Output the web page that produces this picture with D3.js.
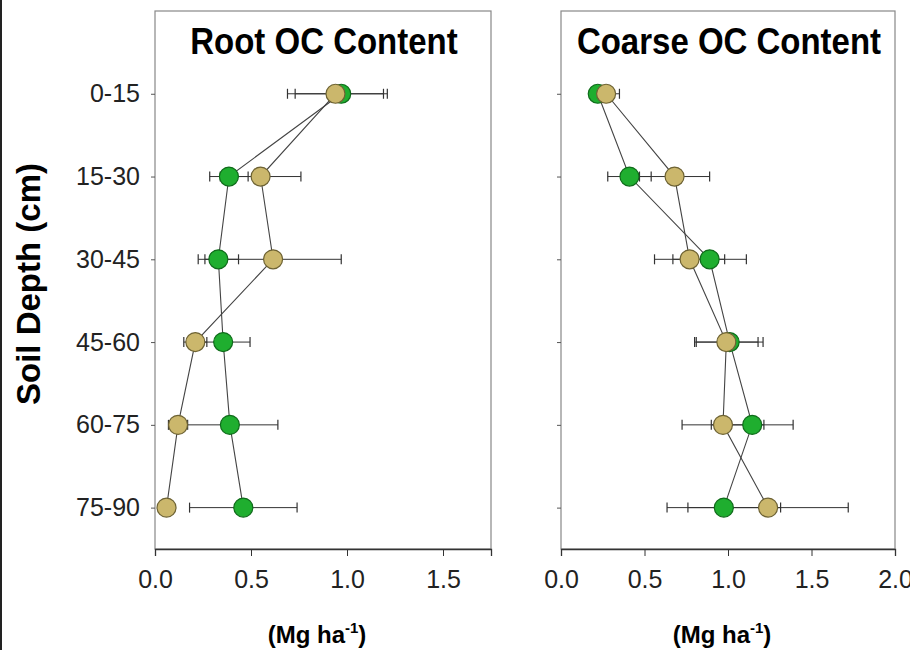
<!DOCTYPE html>
<html>
<head>
<meta charset="utf-8">
<script src="https://cdn.jsdelivr.net/npm/d3@7"></script>
<style>
  body { margin: 0; background: #fff; }
  svg { display: block; font-family: "Liberation Sans", Arial, sans-serif; }
</style>
</head>
<body>
<svg width="910" height="650"></svg>
<script>
// depth classes (top to bottom)
var depths = ["0-15", "15-30", "30-45", "45-60", "60-75", "75-90"];

// Root OC content (Mg ha-1)
var rootGreen = [0.97, 0.385, 0.33, 0.355, 0.39, 0.46];
var rootGreenErr = [0.24, 0.10, 0.105, 0.14, 0.25, 0.28];
var rootTan = [0.94, 0.55, 0.615, 0.21, 0.12, 0.06];
var rootTanErr = [0.25, 0.21, 0.355, 0.06, 0.05, 0.03];

// Coarse OC content (Mg ha-1)
var coarseGreen = [0.22, 0.41, 0.89, 1.01, 1.145, 0.975];
var coarseGreenErr = [0.03, 0.13, 0.22, 0.20, 0.245, 0.34];
var coarseTan = [0.27, 0.68, 0.77, 0.99, 0.97, 1.24];
var coarseTanErr = [0.08, 0.21, 0.21, 0.19, 0.245, 0.48];

var rootTicks = [0, 0.5, 1.0, 1.5];
var coarseTicks = [0, 0.5, 1.0, 1.5, 2.0];

var svg = d3.select("svg");
var plotTop = 11, plotBottom = 549;

// thin dark frame line on the left edge of the picture
svg.append("rect").attr("x", 0).attr("y", 0).attr("width", 2).attr("height", 650).attr("fill", "#222");

var y = d3.scaleLinear().domain([-1, 5.5]).range([plotTop, plotBottom]);

function panel(left, right, xmax, ticks, title, green, greenErr, tan, tanErr, showLabels) {
	var x = d3.scaleLinear().domain([0, xmax]).range([left, right]);
	var g = svg.append("g");

	// frame
	g.append("rect")
		.attr("x", left).attr("y", plotTop)
		.attr("width", right - left).attr("height", plotBottom - plotTop)
		.attr("fill", "none").attr("stroke", "#888").attr("stroke-width", 1.2);

	// x axis
	var xa = g.append("g")
		.attr("transform", "translate(0," + plotBottom + ")")
		.call(d3.axisBottom(x).tickValues(ticks).tickSize(7).tickPadding(14)
			.tickFormat(d3.format(".1f")));
	xa.select(".domain").attr("stroke", "#333").attr("stroke-width", 1.3);
	xa.selectAll(".tick line").attr("stroke", "#333");
	xa.selectAll("text").attr("font-size", 25).attr("fill", "#222");

	// y axis
	var ya = g.append("g")
		.attr("transform", "translate(" + left + ",0)")
		.call(d3.axisLeft(y).tickValues(d3.range(depths.length)).tickSize(4).tickPadding(11)
			.tickFormat(function(i) { return showLabels ? depths[i] : ""; }));
	ya.select(".domain").remove();
	ya.selectAll(".tick line").attr("stroke", "#555");
	ya.selectAll("text").attr("font-size", 25).attr("fill", "#222");

	// title
	g.append("text")
		.attr("x", (left + right) / 2 + 1).attr("y", 54)
		.attr("text-anchor", "middle")
		.attr("font-size", 33).attr("font-weight", "bold")
		.attr("transform", "translate(0,54) scale(1,1.12) translate(0,-54)")
		.text(title);

	// x label
	var lab = g.append("text")
		.attr("x", (left + right) / 2 - 6).attr("y", 643)
		.attr("text-anchor", "middle")
		.attr("font-size", 24).attr("font-weight", "bold");
	lab.append("tspan").text("(Mg ha");
	lab.append("tspan").attr("font-size", 15).attr("dy", -10).text("-1");
	lab.append("tspan").attr("dy", 10).text(")");

	var series = [
		{v: green, e: greenErr, fill: "#1fae2f", stroke: "#0f6b1a"},
		{v: tan, e: tanErr, fill: "#cbb76c", stroke: "#6d6233"}
	];

	// error bars
	series.forEach(function(s) {
		var eb = g.append("g").selectAll("g").data(s.v).enter().append("g");
		eb.append("line")
			.attr("x1", function(d, i) { return x(d - s.e[i]); })
			.attr("x2", function(d, i) { return x(d + s.e[i]); })
			.attr("y1", function(d, i) { return y(i); })
			.attr("y2", function(d, i) { return y(i); })
			.attr("stroke", "#333").attr("stroke-width", 1);
		[-1, 1].forEach(function(sgn) {
			eb.append("line")
				.attr("x1", function(d, i) { return x(d + sgn * s.e[i]); })
				.attr("x2", function(d, i) { return x(d + sgn * s.e[i]); })
				.attr("y1", function(d, i) { return y(i) - 5; })
				.attr("y2", function(d, i) { return y(i) + 5; })
				.attr("stroke", "#333").attr("stroke-width", 1.2);
		});
	});

	// connecting lines
	series.forEach(function(s) {
		g.append("path")
			.datum(s.v)
			.attr("fill", "none").attr("stroke", "#444").attr("stroke-width", 1.1)
			.attr("d", d3.line().x(function(d) { return x(d); }).y(function(d, i) { return y(i); }));
	});

	// points
	series.forEach(function(s) {
		g.append("g").selectAll("circle").data(s.v).enter().append("circle")
			.attr("cx", function(d) { return x(d); })
			.attr("cy", function(d, i) { return y(i); })
			.attr("r", 9.5)
			.attr("fill", s.fill).attr("stroke", s.stroke).attr("stroke-width", 1.2);
	});
}

panel(155, 491, 1.75, rootTicks, "Root OC Content", rootGreen, rootGreenErr, rootTan, rootTanErr, true);
panel(561, 895, 2.0, coarseTicks, "Coarse OC Content", coarseGreen, coarseGreenErr, coarseTan, coarseTanErr, false);

// shared y label
svg.append("text")
	.attr("transform", "translate(40,284) rotate(-90)")
	.attr("text-anchor", "middle")
	.attr("font-size", 33).attr("font-weight", "bold")
	.text("Soil Depth (cm)");
</script>
</body>
</html>
